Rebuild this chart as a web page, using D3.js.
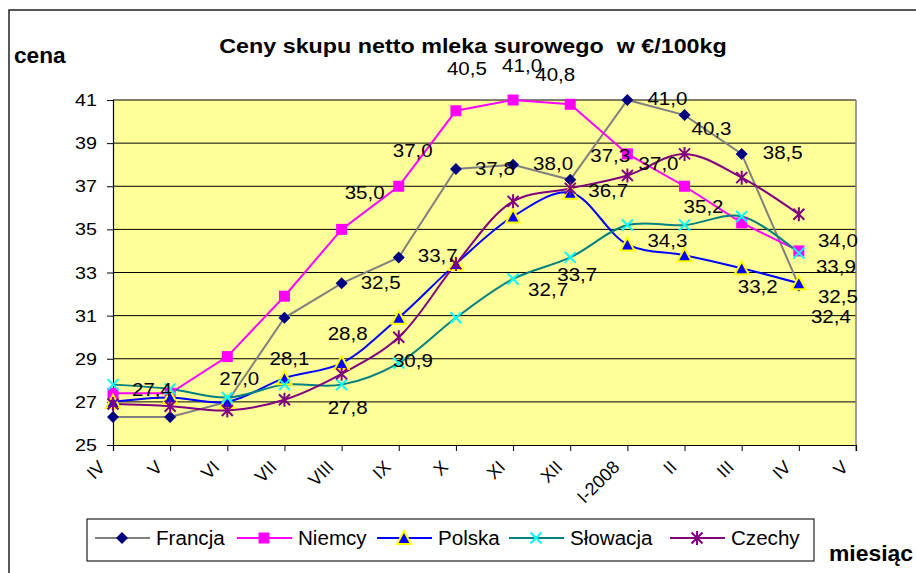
<!DOCTYPE html>
<html>
<head>
<meta charset="utf-8">
<script src="https://cdn.jsdelivr.net/npm/d3@7"></script>
<style>
  html, body { margin: 0; padding: 0; background: #fff; }
  svg { display: block; font-family: "Liberation Sans", Arial, sans-serif; }
  text { white-space: pre; }
</style>
</head>
<body>
<div id="chart"></div>
<script>
// months on the x axis
const months = ["IV", "V", "VI", "VII", "VIII", "IX", "X", "XI", "XII", "I-2008", "II", "III", "IV", "V"];

// prices in EUR / 100 kg
const francja  = [26.3, 26.3, 27.0, 30.9, 32.5, 33.7, 37.8, 38.0, 37.3, 41.0, 40.3, 38.5, 32.4];
const niemcy   = [27.4, 27.4, 29.1, 31.9, 35.0, 37.0, 40.5, 41.0, 40.8, 38.5, 37.0, 35.3, 34.0];
const polska   = [27.0, 27.2, 27.0, 28.1, 28.8, 30.9, 33.4, 35.6, 36.7, 34.3, 33.8, 33.2, 32.5];
const slowacja = [27.8, 27.6, 27.2, 27.8, 27.8, 28.8, 30.9, 32.7, 33.7, 35.2, 35.2, 35.6, 33.9];
const czechy   = [26.9, 26.8, 26.6, 27.1, 28.3, 30.0, 33.4, 36.3, 36.9, 37.5, 38.5, 37.4, 35.7];

const yTicks = [25, 27, 29, 31, 33, 35, 37, 39, 41];

// which points carry a value label (series name, month index)
const labelled = [
  ["Francja", 4], ["Francja", 5], ["Francja", 6], ["Francja", 7], ["Francja", 8],
  ["Francja", 9], ["Francja", 10], ["Francja", 11], ["Francja", 12],
  ["Niemcy", 0], ["Niemcy", 4], ["Niemcy", 5], ["Niemcy", 6], ["Niemcy", 7],
  ["Niemcy", 8], ["Niemcy", 10], ["Niemcy", 12],
  ["Polska", 2], ["Polska", 3], ["Polska", 4], ["Polska", 8], ["Polska", 9],
  ["Polska", 11], ["Polska", 12],
  ["Słowacja", 4], ["Słowacja", 6], ["Słowacja", 7], ["Słowacja", 8],
  ["Słowacja", 10], ["Słowacja", 12]
];

// where each label sits relative to its point (same order as above)
const labelOffsets = [
  [39, 0], [39, -1], [39, 0], [40, -1], [40, -24],
  [40, -1], [27, 14], [41, -1], [32, 32],
  [39, -3], [23, -36], [14, -35], [11, -42], [9, -34],
  [-15, -29], [-26, -22], [39, -10],
  [12, -23], [5, -19], [6, -29], [38, -2], [40, -4],
  [16, 19], [39, 14],
  [6, 23], [-43, 43], [35, 11], [7, 18],
  [19, -18], [37, 14]
];

const W = 916, H = 573;
const plot = { left: 113, right: 856, top: 100, bottom: 445 };

const x = d3.scalePoint().domain(d3.range(months.length)).range([plot.left, plot.right]);
const y = d3.scaleLinear().domain([25, 41]).range([plot.bottom, plot.top]);

const marker = {
  diamond: "M0,-6L6,0L0,6L-6,0Z",
  square: "M-5.5,-5.5H5.5V5.5H-5.5Z",
  triangle: "M0,-7L7,6H-7Z",
  cross: "M-5.5,-5.5L5.5,5.5M-5.5,5.5L5.5,-5.5",
  star: "M-5.5,-5.5L5.5,5.5M-5.5,5.5L5.5,-5.5M0,-7V7"
};

const series = [
  { name: "Francja", values: francja, line: "#808080", shape: "diamond", fill: "#000080", stroke: "none", curve: d3.curveLinear },
  { name: "Niemcy", values: niemcy, line: "#ff00ff", shape: "square", fill: "#ff00ff", stroke: "none", curve: d3.curveLinear },
  { name: "Polska", values: polska, line: "#0000ff", shape: "triangle", fill: "#0000ff", stroke: "#ffff00", curve: d3.curveCatmullRom },
  { name: "Słowacja", values: slowacja, line: "#008080", shape: "cross", fill: "none", stroke: "#00ffff", curve: d3.curveCatmullRom },
  { name: "Czechy", values: czechy, line: "#800080", shape: "star", fill: "none", stroke: "#800080", curve: d3.curveCatmullRom }
];

const svg = d3.select("#chart").append("svg")
  .attr("width", W)
  .attr("height", H)
  .attr("viewBox", `0 0 ${W} ${H}`);

// text drawn a little wider than tall, like the original picture
function stretched(parent, px, py, str, o) {
  const g = parent.append("g")
    .attr("transform", `translate(${px},${py}) scale(${o.sx || 1},1)`);
  return g.append("text")
    .attr("text-anchor", o.anchor || "start")
    .attr("dominant-baseline", o.baseline || "auto")
    .attr("font-size", o.size)
    .attr("font-weight", o.weight || "normal")
    .attr("fill", "#000")
    .text(str);
}

// outer frame
svg.append("path")
  .attr("d", "M9,573V10H916")
  .attr("fill", "none")
  .attr("stroke", "#222")
  .attr("stroke-width", 1.5);

// plot area
svg.append("rect")
  .attr("x", plot.left).attr("y", plot.top)
  .attr("width", plot.right - plot.left).attr("height", plot.bottom - plot.top)
  .attr("fill", "#ffff99");

svg.append("g").selectAll("line")
  .data(yTicks.filter(d => d > 25))
  .join("line")
  .attr("x1", plot.left).attr("x2", plot.right)
  .attr("y1", d => y(d)).attr("y2", d => y(d))
  .attr("stroke", "#000").attr("stroke-width", 1);

svg.append("line")
  .attr("x1", plot.right).attr("x2", plot.right)
  .attr("y1", plot.top).attr("y2", plot.bottom + 6)
  .attr("stroke", "#808080").attr("stroke-width", 1.5);

// axes
const yAxis = svg.append("g")
  .attr("transform", `translate(${plot.left},0)`)
  .call(d3.axisLeft(y).tickValues(yTicks).tickSize(6).tickFormat(""));
const xAxis = svg.append("g")
  .attr("transform", `translate(0,${plot.bottom})`)
  .call(d3.axisBottom(x).tickSize(6).tickFormat(""));
[yAxis, xAxis].forEach(a => {
  a.select(".domain").attr("stroke", "#000").attr("stroke-width", 1.2);
  a.selectAll(".tick line").attr("stroke", "#000");
});

yTicks.forEach(v => {
  stretched(svg, 97, y(v), String(v), { size: 17, sx: 1.16, anchor: "end", baseline: "central" });
});

months.forEach((m, i) => {
  svg.append("text")
    .attr("transform", `translate(${x(i) - 11},${plot.bottom + 19}) rotate(-45)`)
    .attr("text-anchor", "end")
    .attr("dominant-baseline", "central")
    .attr("font-size", 18)
    .text(m);
});

// lines and markers
series.forEach(s => {
  const pts = s.values.map((v, i) => [x(i), y(v)]);
  svg.append("path")
    .attr("d", d3.line().curve(s.curve)(pts))
    .attr("fill", "none")
    .attr("stroke", s.line)
    .attr("stroke-width", 2);
});

series.forEach(s => {
  svg.append("g").selectAll("path")
    .data(s.values)
    .join("path")
    .attr("transform", (v, i) => `translate(${x(i)},${y(v)})`)
    .attr("d", marker[s.shape])
    .attr("fill", s.fill)
    .attr("stroke", s.stroke)
    .attr("stroke-width", 2);
});

// value labels
const fmt = v => d3.format(".1f")(v).replace(".", ",");
labelled.forEach(([name, i], k) => {
  const s = series.find(d => d.name === name);
  const v = s.values[i];
  const [dx, dy] = labelOffsets[k];
  stretched(svg, x(i) + dx, y(v) + dy, fmt(v), { size: 18, sx: 1.14, anchor: "middle", baseline: "central" });
});

// titles
stretched(svg, 473, 53, "Ceny skupu netto mleka surowego  w €/100kg", { size: 21, sx: 1.11, anchor: "middle", weight: "bold" });
stretched(svg, 14, 63, "cena", { size: 22, sx: 1.03, weight: "bold" });
stretched(svg, 829, 561, "miesiąc", { size: 22, sx: 1.04, weight: "bold" });

// legend
const legend = svg.append("g");
legend.append("rect")
  .attr("x", 87).attr("y", 519)
  .attr("width", 727).attr("height", 42)
  .attr("fill", "#fff")
  .attr("stroke", "#222").attr("stroke-width", 1.2);

const legendX = [95, 237, 377, 509, 670];
series.forEach((s, k) => {
  const lx = legendX[k], ly = 538;
  legend.append("line")
    .attr("x1", lx).attr("x2", lx + 55)
    .attr("y1", ly).attr("y2", ly)
    .attr("stroke", s.line).attr("stroke-width", 2);
  legend.append("path")
    .attr("transform", `translate(${lx + 27},${ly})`)
    .attr("d", marker[s.shape])
    .attr("fill", s.fill)
    .attr("stroke", s.stroke)
    .attr("stroke-width", 2);
  stretched(legend, lx + 61, ly, s.name, { size: 20, sx: 1.03, baseline: "central" });
});
</script>
</body>
</html>
